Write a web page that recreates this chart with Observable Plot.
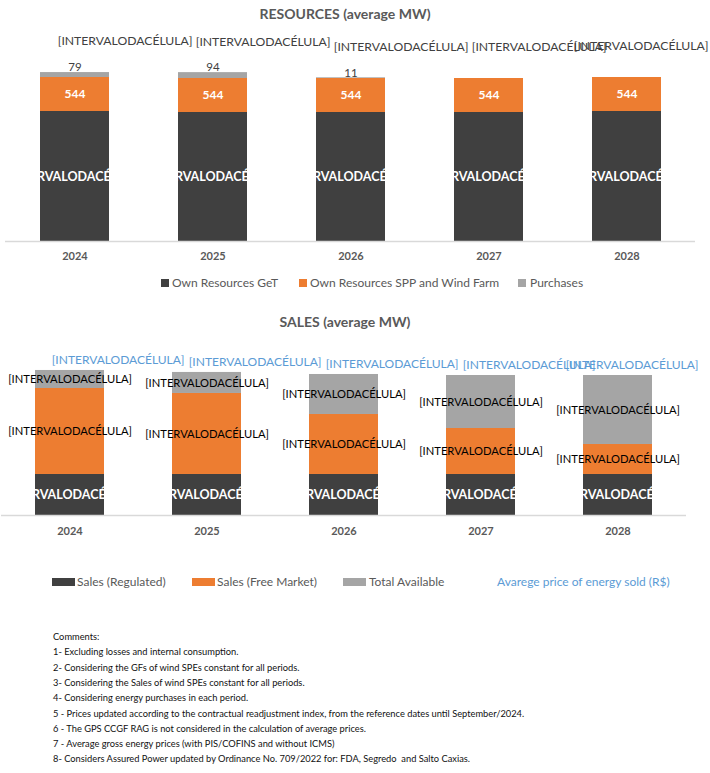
<!DOCTYPE html>
<html><head><meta charset="utf-8">
<script src="https://cdn.jsdelivr.net/npm/d3@7"></script>
<script src="https://cdn.jsdelivr.net/npm/@observablehq/plot@0.6"></script>
<style>
body{margin:0;background:#fff;font-family:Lato,sans-serif;}
#root{position:relative;width:710px;height:773px;overflow:hidden;background:#fff;}
.abs{position:absolute;white-space:nowrap;}
.title{font-weight:bold;color:#595959;font-size:14px;line-height:16px;text-align:center;}
.leg{font-size:12px;line-height:12px;color:#595959;}
.sw{position:absolute;}
.cm{font-size:9.3px;line-height:12px;color:#111;}
</style></head><body><div id="root"></div>
<script>
// ---------- data ----------
const years = ["2024", "2025", "2026", "2027", "2028"];
const resSeries = ["Own Resources GeT", "Own Resources SPP and Wind Farm", "Purchases"];
const ownGeT = [2080, 2064, 2064, 2064, 2080];
const ownSPP = [544, 544, 544, 544, 544];
const purchases = [79, 94, 11, 0, 0];
const cellLabel = "[INTERVALODACÉLULA]";
const salesSeries = ["Sales (Regulated)", "Sales (Free Market)", "Total Available"];
const salesRegulated = [767, 767, 767, 767, 767];
const salesFree = [1608, 1515, 1122, 860, 561];
const totalAvailable = [337, 393, 748, 991, 1290];
const priceLegend = "Avarege price of energy sold (R$)";
const comments = [
  "Comments:",
  "1- Excluding losses and internal consumption.",
  "2- Considering the GFs of wind SPEs constant for all periods.",
  "3- Considering the Sales of wind SPEs constant for all periods.",
  "4- Considering energy purchases in each period.",
  "5 - Prices updated according to the contractual readjustment index, from the reference dates until September/2024.",
  "6 - The GPS CCGF RAG is not considered in the calculation of average prices.",
  "7 - Average gross energy prices (with PIS/COFINS and without ICMS)",
  "8- Considers Assured Power updated by Ordinance No. 709/2022 for: FDA, Segredo  and Salto Caxias."
];
const colDark = "#404040", colOrange = "#ed7d31", colGray = "#a5a5a5", colBlue = "#5b9bd5";

const root = document.getElementById("root");
function add(html, cls, style) {
  const d = document.createElement("div");
  d.className = "abs " + (cls || "");
  d.innerHTML = html;
  Object.assign(d.style, style);
  root.appendChild(d);
  return d;
}

function clipLabels(chart, label, tops) {
  const svg = chart;
  const x = chart.scale("x"), y = chart.scale("y");
  const g = svg.querySelector(`g[aria-label="${label}"]`);
  if (!g) return;
  let defs = svg.querySelector("defs");
  if (!defs) { defs = document.createElementNS("http://www.w3.org/2000/svg", "defs"); svg.insertBefore(defs, svg.firstChild); }
  const texts = Array.from(g.querySelectorAll("text"));
  texts.forEach((t, i) => {
    const id = label + "-clip-" + i;
    const cp = document.createElementNS("http://www.w3.org/2000/svg", "clipPath");
    cp.setAttribute("id", id);
    const r = document.createElementNS("http://www.w3.org/2000/svg", "rect");
    r.setAttribute("x", x.apply(years[i]));
    r.setAttribute("width", x.bandwidth);
    r.setAttribute("y", y.apply(tops[i]));
    r.setAttribute("height", y.apply(0) - y.apply(tops[i]));
    cp.appendChild(r); defs.appendChild(cp);
    const w = document.createElementNS("http://www.w3.org/2000/svg", "g");
    w.setAttribute("clip-path", `url(#${id})`);
    g.insertBefore(w, t); w.appendChild(t);
  });
}

// ---------- RESOURCES chart ----------
const resData = [];
years.forEach((yr, i) => {
  resData.push({year: yr, series: resSeries[0], value: ownGeT[i]});
  resData.push({year: yr, series: resSeries[1], value: ownSPP[i]});
  resData.push({year: yr, series: resSeries[2], value: purchases[i]});
});
const resIdx = years.map((yr, i) => ({year: yr, i, get: ownGeT[i], spp: ownSPP[i], pur: purchases[i], total: ownGeT[i] + ownSPP[i] + purchases[i]}));

add("RESOURCES (average MW)", "title", {left: "0px", width: "690px", top: "6px"});

const res = Plot.plot({
  width: 710, height: 268,
  marginTop: 0, marginBottom: 27, marginLeft: 5, marginRight: 15,
  style: {fontFamily: "Lato, sans-serif", overflow: "visible", background: "transparent"},
  x: {type: "band", domain: years, paddingInner: 0.5, paddingOuter: 0.25, axis: null},
  y: {domain: [0, 241 * 16], axis: null},
  color: {domain: resSeries, range: [colDark, colOrange, colGray]},
  marks: [
    Plot.barY(resData, {x: "year", y: "value", fill: "series"}),
    Plot.ruleY([0], {stroke: "#d9d9d9", strokeWidth: 1.3}),
    Plot.text(years, {x: d => d, y: 0, dy: 15, text: d => d, fill: "#595959", fontWeight: "bold", fontSize: 11}),
    Plot.text(resIdx, {x: "year", y: d => d.get / 2, text: () => cellLabel, fill: "#fff", fontWeight: "bold", fontSize: 12.5, ariaLabel: "get-label"}),
    Plot.text(resIdx, {x: "year", y: d => d.get + d.spp / 2, text: d => String(d.spp), fill: "#fff", fontWeight: "bold", fontSize: 12}),
    Plot.text(resIdx.filter(d => d.pur > 0), {x: "year", y: "total", dy: -5, text: d => String(d.pur), fill: colDark, fontSize: 11.5}),
    Plot.text(resIdx.slice(0, 4), {x: "year", y: "total", dy: -31, dx: 50, text: () => cellLabel, fill: colDark, fontSize: 12.2}),
    Plot.text(resIdx.slice(4), {x: "year", y: "total", dy: -31, dx: 14, text: () => cellLabel, fill: colDark, fontSize: 12.2})
  ]
});
res.style.position = "absolute"; res.style.left = "0px"; res.style.top = "0px";
root.appendChild(res);
clipLabels(res, "get-label", ownGeT);

// top legend
const topLeg = [[161, 172, colDark, resSeries[0]], [299, 310, colOrange, resSeries[1]], [518, 530, colGray, resSeries[2]]];
topLeg.forEach(([sx, tx, c, t]) => {
  add("", "sw", {left: sx + "px", top: "279px", width: "8px", height: "8px", background: c});
  add(t, "leg", {left: tx + "px", top: "277px"});
});

// ---------- SALES chart ----------
const salesData = [];
years.forEach((yr, i) => {
  salesData.push({year: yr, series: salesSeries[0], value: salesRegulated[i]});
  salesData.push({year: yr, series: salesSeries[1], value: salesFree[i]});
  salesData.push({year: yr, series: salesSeries[2], value: totalAvailable[i]});
});
const salesIdx = years.map((yr, i) => ({year: yr, reg: salesRegulated[i], free: salesFree[i], avail: totalAvailable[i], total: salesRegulated[i] + salesFree[i] + totalAvailable[i]}));

add("SALES (average MW)", "title", {left: "0px", width: "690px", top: "314px"});

const sales = Plot.plot({
  width: 710, height: 245,
  marginTop: 0, marginBottom: 30, marginLeft: 1, marginRight: 24,
  style: {fontFamily: "Lato, sans-serif", overflow: "visible", background: "transparent"},
  x: {type: "band", domain: years, paddingInner: 0.5, paddingOuter: 0.25, axis: null},
  y: {domain: [0, 215 * 18.7], axis: null},
  color: {domain: salesSeries, range: [colDark, colOrange, colGray]},
  marks: [
    Plot.barY(salesData, {x: "year", y: "value", fill: "series"}),
    Plot.ruleY([0], {stroke: "#d9d9d9", strokeWidth: 1.3}),
    Plot.text(years, {x: d => d, y: 0, dy: 16, text: d => d, fill: "#595959", fontWeight: "bold", fontSize: 11}),
    Plot.text(salesIdx, {x: "year", y: d => d.reg / 2, text: () => cellLabel, fill: "#fff", fontWeight: "bold", fontSize: 12.5, ariaLabel: "reg-label"}),
    Plot.text(salesIdx, {x: "year", y: d => d.reg + d.free / 2, text: () => cellLabel, fill: "#000", fontSize: 11.2}),
    Plot.text(salesIdx, {x: "year", y: d => d.reg + d.free + d.avail / 2, text: () => cellLabel, fill: "#000", fontSize: 11.2}),
    Plot.text(salesIdx.slice(0, 4), {x: "year", y: "total", dy: -10, dx: 48, text: () => cellLabel, fill: colBlue, fontSize: 12}),
    Plot.text(salesIdx.slice(4), {x: "year", y: "total", dy: -10, dx: 14, text: () => cellLabel, fill: colBlue, fontSize: 12})
  ]
});
sales.style.position = "absolute"; sales.style.left = "0px"; sales.style.top = "300px";
root.appendChild(sales);
clipLabels(sales, "reg-label", salesRegulated);

// bottom legend
const botLeg = [[52, 77, colDark, salesSeries[0]], [192, 217, colOrange, salesSeries[1]], [343, 369, colGray, salesSeries[2]]];
botLeg.forEach(([sx, tx, c, t]) => {
  add("", "sw", {left: sx + "px", top: "578px", width: "23px", height: "8px", background: c});
  add(t, "leg", {left: tx + "px", top: "576px"});
});
add(priceLegend, "leg", {left: "497px", top: "576px", color: colBlue});

// comments
comments.forEach((c, i) => {
  add(c.replace(/  /g, "&nbsp; "), "cm", {left: "53px", top: (631 + i * 15.3) + "px"});
});
</script>
</body></html>
